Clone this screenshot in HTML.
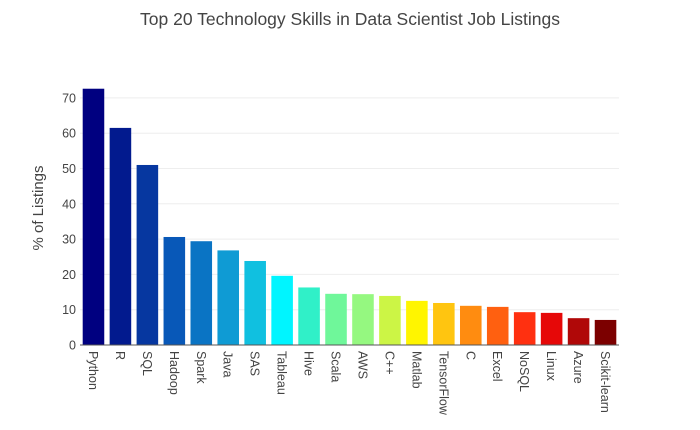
<!DOCTYPE html>
<html><head><meta charset="utf-8"><style>
body{margin:0;background:#fff;font-family:"Liberation Sans",sans-serif}
svg text{font-family:"Liberation Sans",sans-serif;fill:#444}
</style></head><body>
<svg width="700" height="425">
<text x="350" y="25" text-anchor="middle" font-size="17.5">Top 20 Technology Skills in Data Scientist Job Listings</text>
<text transform="translate(43,208) rotate(-90)" text-anchor="middle" font-size="15">% of Listings</text>
<g id="grid"></g><g id="bars"></g><g id="labels"></g>
<line x1="80" y1="345" x2="619" y2="345" stroke="#555" stroke-width="1"/>
</svg>
<script>
const categories=["Python","R","SQL","Hadoop","Spark","Java","SAS","Tableau","Hive","Scala","AWS","C++","Matlab","TensorFlow","C","Excel","NoSQL","Linux","Azure","Scikit-learn"];
const values=[72.6,61.5,51,30.6,29.4,26.8,23.8,19.6,16.3,14.5,14.4,13.9,12.5,11.9,11.1,10.8,9.3,9.1,7.6,7.1];
const colors=["#000080","#021a8e","#0637a0","#0858b8","#0a74c4","#0f9bd4","#10c0e0","#00f5ff","#30f0c8","#6ff79a","#95f880","#ccf545","#fff500","#ffc510","#ff8c10","#ff6010","#ff3010","#e60808","#b00808","#7c0000"];
const yTicks=[0,10,20,30,40,50,60,70];
const ns="http://www.w3.org/2000/svg";
const x0=80,band=26.95,y0=345,ppu=3.53;
const X=i=>x0+i*band, Y=v=>y0-v*ppu;
const grid=document.getElementById('grid'),bars=document.getElementById('bars'),labels=document.getElementById('labels');
yTicks.forEach(t=>{
 if(t>0){const l=document.createElementNS(ns,'line');
 l.setAttribute('x1',80);l.setAttribute('x2',619);l.setAttribute('y1',Y(t));l.setAttribute('y2',Y(t));l.setAttribute('stroke','#eee');
 
 
 grid.appendChild(l);}
 const tx=document.createElementNS(ns,'text');
 tx.setAttribute('x',76);tx.setAttribute('y',Y(t)+4.5);tx.setAttribute('text-anchor','end');tx.setAttribute('font-size','12.5');
 tx.textContent=t;
 
 
 grid.appendChild(tx);
});
categories.forEach((c,i)=>{
 const r=document.createElementNS(ns,'rect');
 const w=band*0.8;
 r.setAttribute('x',X(i)+(band-w)/2);r.setAttribute('width',w);
 r.setAttribute('y',Y(values[i]));r.setAttribute('height',values[i]*ppu);r.setAttribute('fill',colors[i]);
 
 
 bars.appendChild(r);
 const t=document.createElementNS(ns,'text');
 const cx=X(i)+band/2-4.5;
 t.setAttribute('transform','translate('+cx+',351) rotate(90)');t.setAttribute('font-size','12.5');
 t.textContent=c;
 
 
 labels.appendChild(t);
});
</script>
</body></html>
